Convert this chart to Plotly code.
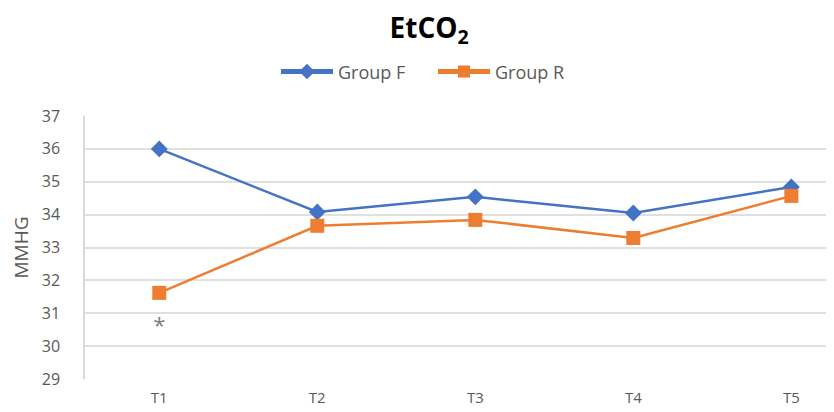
import plotly.graph_objects as go

categories = ["T1", "T2", "T3", "T4", "T5"]
group_f = [36.0, 34.08, 34.54, 34.05, 34.84]
group_r = [31.62, 33.66, 33.84, 33.29, 34.57]
y_ticks = [29, 30, 31, 32, 33, 34, 35, 36, 37]
asterisk_cat = "T1"
asterisk_val = 30.58

x_idx = list(range(len(categories)))

fig = go.Figure()
fig.add_trace(go.Scatter(
    x=x_idx, y=group_f, name="Group F", mode="lines+markers",
    line=dict(color="#4472C4", width=2.5),
    marker=dict(symbol="diamond", size=13, color="#4472C4"),
))
fig.add_trace(go.Scatter(
    x=x_idx, y=group_r, name="Group R", mode="lines+markers",
    line=dict(color="#ED7D31", width=2.5),
    marker=dict(symbol="square", size=14, color="#ED7D31"),
))
fig.add_trace(go.Scatter(
    x=[categories.index(asterisk_cat)], y=[asterisk_val], mode="text",
    text=["*"], textfont=dict(size=22, color="#7f7f7f", family="Open Sans"),
    showlegend=False, hoverinfo="skip",
))

fig.update_layout(
    width=834, height=412,
    margin=dict(l=77, r=8, t=108, b=41),
    paper_bgcolor="white", plot_bgcolor="white",
    font=dict(family="Open Sans", color="#595959"),
    title=dict(text="<b>EtCO<sub>2</sub></b>", x=0.505, xanchor="center",
               y=0.95, yanchor="middle",
               font=dict(size=28, color="#000000", family="Open Sans")),
    legend=dict(orientation="h", x=0.255, xanchor="left", y=1.168, yanchor="middle",
                font=dict(size=18, color="#595959"), itemwidth=52,
                entrywidth=90, itemsizing="constant"),
    showlegend=True,
)
fig.update_xaxes(
    tickmode="array", tickvals=x_idx, ticktext=categories,
    range=[-0.47, 4.27], showgrid=False, zeroline=False,
    tickfont=dict(size=15, color="#595959"),
    showline=False, ticks="", ticklabelstandoff=8,
)
fig.update_yaxes(
    range=[29, 37], tickvals=y_ticks, showgrid=True, gridcolor="#e0e0e0", gridwidth=1.5,
    zeroline=False, showline=True, linecolor="#d9d9d9", linewidth=1.5,
    tickfont=dict(size=16, color="#595959"), ticks="", ticklabelstandoff=20,
    title=dict(text="MMHG", font=dict(size=19, color="#595959"), standoff=10),
)

fig.write_html("out.html")
